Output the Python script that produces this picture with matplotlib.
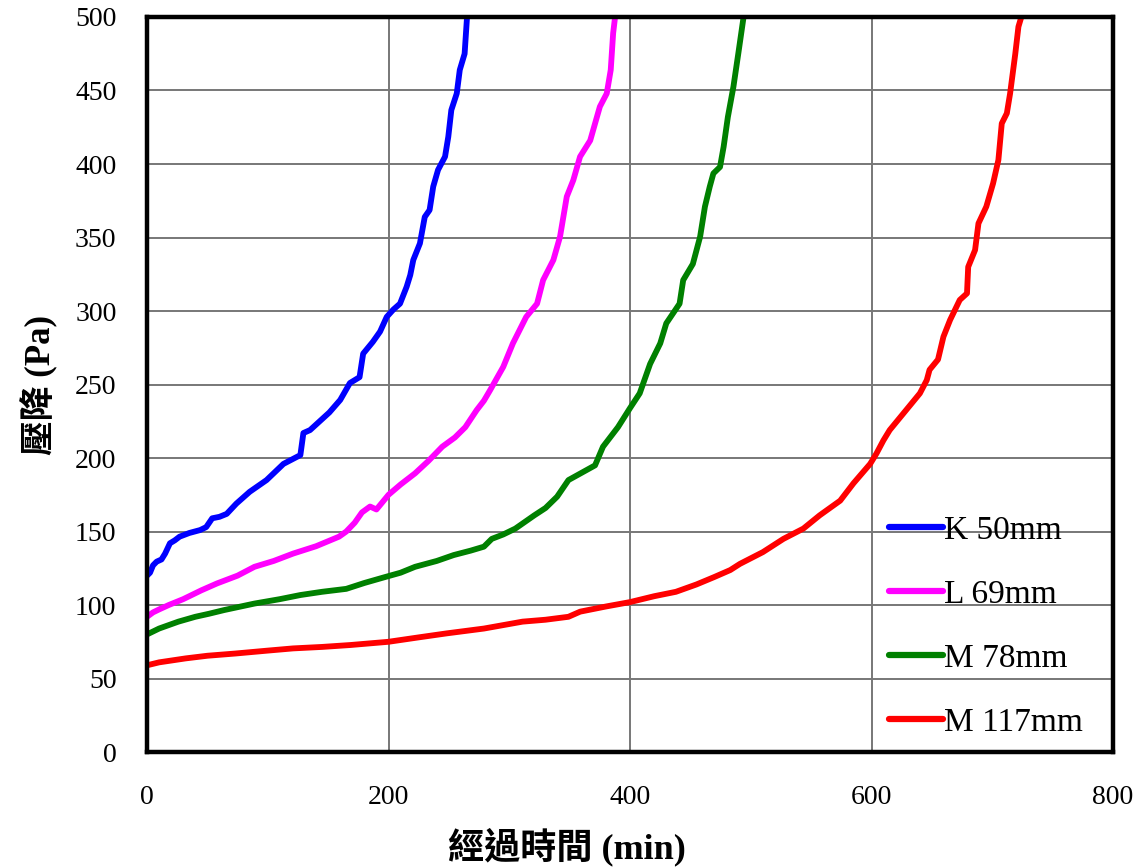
import matplotlib
matplotlib.use("Agg")
import matplotlib.pyplot as plt

# ---------------------------------------------------------
# Donnees (temps en min, perte de charge en Pa)
# ---------------------------------------------------------
k50_x = [0, 2.5, 5, 8, 12, 15, 19, 23, 27, 35, 44, 49, 54, 60, 66, 74, 85, 99,
         113, 120, 127, 129.5, 135, 143, 151, 160, 168, 176, 179, 187, 193,
         198.5, 204, 209.5, 215, 218, 220.5, 226, 230, 234, 237, 241, 246.8,
         249.5, 252, 256.5, 259, 263, 265]
k50_y = [120, 122, 127, 129.5, 131, 135, 142, 144, 146.5, 149, 151, 153, 159,
         160, 162, 169, 177, 185, 196, 199, 202, 217, 219, 225, 231, 239.5, 251,
         255, 271, 279, 286, 296, 301, 305, 316.5, 324.5, 334.7, 346, 364,
         368.7, 384.6, 396, 405, 418.6, 436.7, 448, 464, 475, 500]

l69_x = [0, 5, 10, 18, 30, 45, 58, 75, 89, 105, 121, 140, 159, 165, 172, 178,
         184.7, 190, 200, 210, 222, 233, 244.5, 255, 263.6, 273, 279, 284, 295,
         303, 314, 323, 328, 336.5, 342, 347.6, 353, 358.6, 367, 375, 380.7,
         384, 386, 387.6]
l69_y = [92, 95, 97, 100, 104, 110, 114.7, 120, 126, 130, 135, 140, 146.5, 150,
         156, 163, 167, 165, 175, 182, 189.6, 198, 207.7, 214, 221, 232.6, 239,
         246, 262, 278, 296, 305, 321, 334.7, 350.5, 377.8, 389, 405, 416, 439,
         448, 464, 489, 500]

m78_x = [0, 10, 26, 40, 51, 64, 89, 110, 127, 145, 165, 180, 197, 210, 222,
         240, 254, 268, 279, 285.5, 295, 305, 320.7, 330, 339.6, 349, 360, 371,
         377.6, 390, 400, 408, 416.6, 425, 430, 441, 444, 452, 458, 462, 466,
         469, 474.5, 477.5, 481, 485.6, 489.7, 494]
m78_y = [80, 84, 88.7, 92, 94, 96.6, 101, 104, 106.8, 109, 111, 115, 119, 122,
         126, 130, 134, 137, 139.7, 145, 148, 152, 161, 166, 173.7, 185, 190,
         195, 207.7, 221, 234, 244, 264, 278, 291.6, 305, 321, 332, 350.5, 371,
         384.6, 393.6, 398, 411.8, 432, 452.6, 475.5, 500]

m117_x = [0, 10, 32, 50, 73, 100, 121, 145, 168.5, 200, 225, 248, 279, 311,
          330, 349, 358.7, 380, 400, 420, 438, 455, 469.6, 483, 491, 510, 527,
          543.5, 557, 574, 585, 598.8, 604, 609.8, 615, 626, 640, 645.7, 648,
          655, 659.5, 665, 673, 679, 680, 685.7, 688.5, 695, 700.6, 705, 707.8,
          712, 714.7, 719, 721.6, 724]
m117_y = [59, 61, 63.7, 65.5, 67, 69, 70.5, 71.5, 72.8, 75, 78, 80.7, 84, 88.7,
          90, 92, 95.5, 99, 102, 106, 109, 114, 119, 123.8, 128, 136, 145, 152,
          161, 171, 182.8, 196, 203, 212, 219, 230, 244, 253, 260, 267, 282.5,
          293.9, 307.5, 312, 330, 341.5, 359.6, 371, 386.8, 402.7, 427.6, 434.5,
          448, 475, 493.4, 500]

SERIES = [
    (k50_x, k50_y, "K 50mm", "#0000ff"),
    (l69_x, l69_y, "L 69mm", "#ff00ff"),
    (m78_x, m78_y, "M 78mm", "#008000"),
    (m117_x, m117_y, "M 117mm", "#ff0000"),
]

POLICE = ["Liberation Serif", "Noto Sans CJK TC", "DejaVu Sans"]
plt.rcParams["font.family"] = POLICE

# ---------------------------------------------------------
# Figure
# ---------------------------------------------------------
fig = plt.figure(figsize=(11.44, 8.67), dpi=100)
ax = fig.add_axes([0.1285, 0.1326, 0.8445, 0.8478])

for xs, ys, nom, couleur in SERIES:
    ax.plot(xs, ys, color=couleur, lw=4.2, label=nom,
            solid_joinstyle="round", solid_capstyle="butt", zorder=3)

ax.set_xlim(0, 800)
ax.set_ylim(0, 500)
ax.set_xticks(range(0, 801, 200))
ax.set_yticks(range(0, 501, 50))
ax.grid(True, color="#777777", lw=1.4)
ax.set_axisbelow(True)

ax.tick_params(axis="both", length=0, labelsize=20)
ax.tick_params(axis="x", pad=24)
ax.tick_params(axis="y", pad=22)

for s in ax.spines.values():
    s.set_linewidth(3.2)
    s.set_color("black")
    s.set_zorder(5)

ax.set_xlabel("經過時間 (min)", fontsize=26, fontweight="bold")
ax.xaxis.set_label_coords(0.435, -0.103)
ax.set_ylabel("壓降 (Pa)", fontsize=25, fontweight="bold", labelpad=12)

leg = ax.legend(loc="lower left", bbox_to_anchor=(0.758, 0.006),
                frameon=False, fontsize=24, handlelength=1.6,
                handletextpad=0.05, labelspacing=1.0, borderpad=0.3,
                borderaxespad=0.0)
for ligne in leg.get_lines():
    ligne.set_linewidth(4.5)
    ligne.set_solid_capstyle("round")

fig.savefig("out.png", dpi=100)
